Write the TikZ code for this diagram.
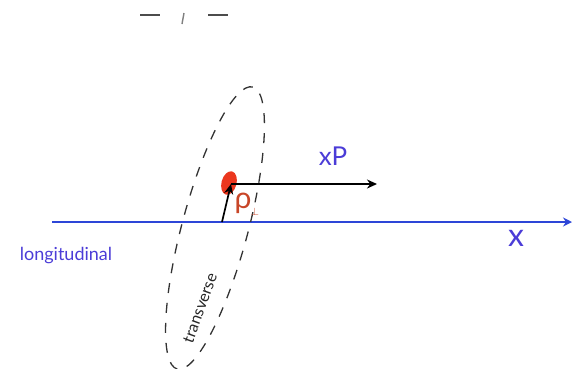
\documentclass[tikz,border=0pt]{standalone}
\usepackage{fontspec}
\setmainfont{Lato}
\usetikzlibrary{arrows.meta,shapes.geometric}
\definecolor{axisblue}{RGB}{45,70,215}
\definecolor{labblue}{RGB}{75,60,215}
\definecolor{dotred}{RGB}{235,55,30}
\definecolor{rhocol}{RGB}{200,70,40}
\tikzset{
  axis/.style={draw=axisblue,line width=1.9pt,-{Stealth[length=9pt,width=9pt]}},
  vec/.style={draw=black,line width=1.7pt,-{Stealth[length=10pt,width=9pt]}},
  ring/.style={draw=black!80,line width=1.3pt,dash pattern=on 10pt off 10pt},
  lab/.style={inner sep=0pt,text=labblue},
}
\begin{document}
\begin{tikzpicture}[x=1pt,y=-1pt]
\useasboundingbox (0,0) rectangle (572,368);
% cut-off fragments at top
\draw[black!70,line width=1.4pt] (140,15) -- (160,15);
\draw[black!70,line width=1.4pt] (208,15) -- (228,15);
\draw[gray,line width=1.4pt] (184,13) -- (182,24);
% axis
\coordinate (a0) at (52,222);
\coordinate (a1) at (572,222);
\draw[axis] (a0) -- (a1);
\node[lab,font=\fontsize{32}{32}\selectfont] (xl) at (516,238) {x};
\node[lab,font=\fontsize{18}{18}\selectfont] (long) at (66,256) {longitudinal};
% dashed ellipse
\draw[ring,rotate around={75:(215,228)}] (215,228) ellipse [x radius=146pt,y radius=33pt];
% point and vectors
\coordinate (base) at (222,222);
\node[fill=dotred,ellipse,rotate=-15,minimum width=15pt,minimum height=24pt,inner sep=0pt] (dot) at (229,183) {};
\coordinate (pc) at (231,184);
\draw[vec] (base) -- (pc);
\coordinate (pe) at (377,184);
\draw[vec] (pc) -- (pe);
\node[lab,font=\fontsize{26}{26}\selectfont] (xp) at (333,156) {xP};
\node[text=rhocol,inner sep=0pt,font=\fontsize{30}{30}\selectfont] (rho) at (243,203) {ρ};
\node[text=rhocol,inner sep=0pt,font=\fontsize{11}{11}\selectfont] (perp) at (255,212) {$\perp$};
\node[rotate=70,inner sep=0pt,font=\fontsize{16}{16}\selectfont,text=black!85] (tr) at (200,308) {transverse};
\end{tikzpicture}
\end{document}
